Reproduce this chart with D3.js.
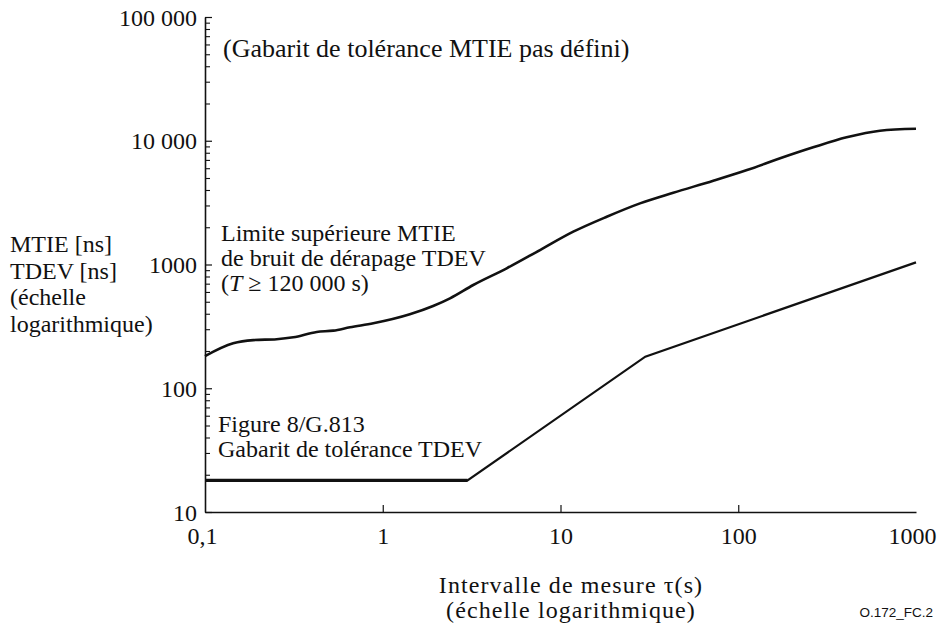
<!DOCTYPE html>
<html>
<head>
<meta charset="utf-8">
<script src="https://cdn.jsdelivr.net/npm/d3@7"></script>
<style>
  html, body { margin: 0; padding: 0; background: #fff; }
  svg { display: block; }
  .serif { font-family: "Liberation Serif", "Times New Roman", serif; fill: #111; }
  .sans { font-family: "Liberation Sans", Arial, sans-serif; fill: #111; }
</style>
</head>
<body>
<script>
// Measurement interval tau (s) and MTIE upper limit of wander noise (ns)
const mtieTau = [0.1, 0.144, 0.187, 0.253, 0.314, 0.425, 0.527, 0.654, 0.885, 1.42, 1.92, 2.39,
                 3.23, 4.98, 7.67, 11.8, 18.2, 28, 43.1, 72.4, 112, 172, 264, 407, 627, 1000];
const mtieVal = [182, 231, 245, 249, 258, 285, 292, 311, 335, 396, 462, 533,
                 683, 931, 1309, 1841, 2432, 3119, 3802, 4753, 5801, 7216, 8851, 10665, 12060, 12500];

// TDEV tolerance mask (Figure 8/G.813)
const tdevTau = [0.1, 3, 30, 1000];
const tdevVal = [18, 18, 180, 1040];

// Axis ticks and their labels
const xTicks = [0.1, 1, 10, 100, 1000];
const xTickLabels = ["0,1", "1", "10", "100", "1000"];
const yTicks = [10, 100, 1000, 10000, 100000];
const yTickLabels = ["10", "100", "1000", "10 000", "100 000"];

const W = 945, H = 629;
const svg = d3.select("body").append("svg").attr("width", W).attr("height", H);

const x = d3.scaleLog().domain([0.1, 1000]).range([205, 916]);
const y = d3.scaleLog().domain([10, 100000]).range([512, 17]);

// minor y ticks: 2..9 within each decade
const yMinor = [];
for (let d = 10; d < 100000; d *= 10) for (let k = 2; k <= 9; k++) yMinor.push(d * k);

const ink = "#111";

// Y axis: major ticks with labels
const yAxis = svg.append("g").attr("transform", `translate(${x(0.1)},0)`)
  .call(d3.axisLeft(y).tickValues(yTicks).tickSizeInner(-7).tickSizeOuter(0).tickPadding(15)
        .tickFormat((d, i) => yTickLabels[i]));
yAxis.select(".domain").attr("stroke", ink).attr("stroke-width", 1.6);
yAxis.selectAll(".tick line").attr("stroke", ink).attr("stroke-width", 1.2);
yAxis.selectAll(".tick text").attr("class", "serif").style("font-size", "24px")
  .attr("dx", 7).attr("dy", "0.34em");

// Y axis minor ticks
const yAxisMinor = svg.append("g").attr("transform", `translate(${x(0.1)},0)`)
  .call(d3.axisLeft(y).tickValues(yMinor).tickSizeInner(-5).tickSizeOuter(0).tickFormat(""));
yAxisMinor.select(".domain").remove();
yAxisMinor.selectAll(".tick line").attr("stroke", ink).attr("stroke-width", 1.1);

// X axis
const xAxis = svg.append("g").attr("transform", `translate(0,${y(10)})`)
  .call(d3.axisBottom(x).tickValues(xTicks).tickSizeInner(-7).tickSizeOuter(0).tickPadding(15)
        .tickFormat((d, i) => xTickLabels[i]));
xAxis.select(".domain").attr("stroke", ink).attr("stroke-width", 1.6);
xAxis.selectAll(".tick line").attr("stroke", ink).attr("stroke-width", 1.2)
  .attr("display", d => (d === 0.1 || d === 1000) ? "none" : null);
xAxis.selectAll(".tick text").attr("class", "serif").style("font-size", "24px")
  .attr("dx", d => d === 0.1 ? -3 : d === 1000 ? -4 : 0).attr("dy", "0.71em");

// Curves
svg.append("path")
  .datum(d3.zip(mtieTau, mtieVal))
  .attr("fill", "none").attr("stroke", ink).attr("stroke-width", 2.6)
  .attr("stroke-linejoin", "round")
  .attr("d", d3.line().x(d => x(d[0])).y(d => y(d[1])).curve(d3.curveMonotoneX));

const tdevPts = d3.zip(tdevTau, tdevVal);
const straight = d3.line().x(d => x(d[0])).y(d => y(d[1]));
svg.append("path")
  .attr("fill", "none").attr("stroke", ink).attr("stroke-width", 2.2)
  .attr("stroke-linejoin", "miter")
  .attr("d", straight(tdevPts));
// flat part of the mask is drawn heavier
svg.append("path")
  .attr("fill", "none").attr("stroke", ink).attr("stroke-width", 3.2)
  .attr("d", straight(tdevPts.slice(0, 2)));

// Text blocks
function block(lines, x0, y0, lh, size, anchor, spacing) {
  const t = svg.append("text").attr("class", "serif").style("font-size", size + "px")
    .attr("text-anchor", anchor || "start");
  if (spacing) t.style("letter-spacing", spacing + "px");
  lines.forEach((ln, i) => {
    const ts = t.append("tspan").attr("x", x0).attr("y", y0 + i * lh);
    if (Array.isArray(ln)) {
      ln.forEach(part => {
        const p = ts.append("tspan").text(part.t);
        if (part.i) p.attr("font-style", "italic");
      });
    } else ts.text(ln);
  });
  return t;
}

block(["(Gabarit de tolérance MTIE pas défini)"], 223, 57, 25, 26);
block(["Limite supérieure MTIE", "de bruit de dérapage TDEV",
       [{t: "("}, {t: "T", i: true}, {t: " ≥ 120 000 s)"}]], 221, 241, 25, 24);
block(["Figure 8/G.813", "Gabarit de tolérance TDEV"], 218, 432, 25, 24);
block(["MTIE [ns]", "TDEV [ns]", "(échelle", "logarithmique)"], 10, 252, 26.5, 24);
block(["Intervalle de mesure τ(s)", "(échelle logarithmique)"], 571, 593, 25, 24, "middle", 1.1);

svg.append("text").attr("class", "sans").attr("x", 933).attr("y", 617)
  .attr("text-anchor", "end").style("font-size", "13.5px")
  .text("O.172_FC.2");
</script>
</body>
</html>
